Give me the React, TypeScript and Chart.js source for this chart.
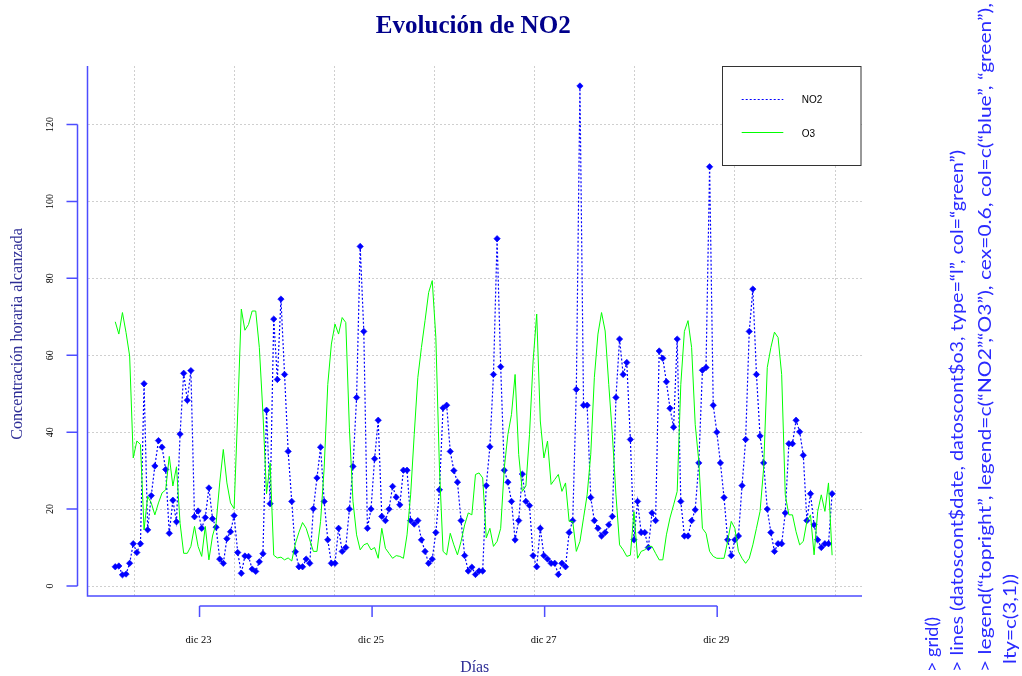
import React, { useEffect, useRef } from "react";
import { Chart, registerables } from "chart.js";

Chart.register(...registerables);

// ---------- data ----------
const TITLE = "Evolución de NO2";
const Y_TITLE = "Concentración horaria alcanzada";
const X_TITLE = "Días";
const SERIES_NAMES = ["NO2", "O3"];

// hourly readings (µg/m3)
const NO2 = [
  5.0, 5.2, 2.9, 3.1, 5.9, 11.0, 8.7, 11.0, 52.6, 14.6,
  23.5, 31.2, 37.8, 36.1, 30.3, 13.7, 22.3, 16.7, 39.5, 55.3,
  48.3, 56.0, 18.0, 19.5, 15.0, 17.8, 25.5, 17.5, 15.3, 7.0,
  5.9, 12.3, 14.1, 18.3, 8.7, 3.3, 7.8, 7.7, 4.4, 3.8,
  6.3, 8.4, 45.7, 21.4, 69.4, 53.7, 74.6, 55.0, 35.0, 22.0,
  8.9, 5.0, 5.0, 7.0, 5.9, 20.1, 28.1, 36.1, 22.0, 12.0,
  5.9, 5.9, 15.0, 9.0, 10.0, 20.0, 31.1, 49.0, 88.3, 66.2,
  15.0, 20.0, 33.1, 43.1, 18.1, 17.0, 20.0, 25.9, 23.1, 21.1,
  30.1, 30.1, 17.0, 16.1, 17.0, 12.0, 9.0, 5.9, 7.0, 13.9,
  25.0, 46.3, 47.0, 35.0, 30.0, 27.0, 17.0, 7.9, 3.9, 4.9,
  3.0, 3.9, 3.9, 26.1, 36.2, 55.0, 90.3, 57.0, 30.1, 27.0,
  22.0, 12.0, 17.0, 29.1, 22.0, 20.9, 7.9, 5.0, 15.0, 7.9,
  7.0, 5.9, 5.9, 3.0, 5.9, 5.0, 13.9, 17.0, 51.1, 130.0,
  47.0, 47.0, 23.0, 17.0, 15.0, 13.0, 13.9, 15.9, 18.1, 49.0,
  64.2, 55.0, 58.1, 38.1, 12.0, 22.0, 13.9, 13.9, 10.0, 19.0,
  17.0, 61.1, 59.2, 53.1, 46.2, 41.3, 64.2, 22.0, 13.0, 13.0,
  17.0, 19.8, 32.0, 56.1, 56.8, 109.0, 47.0, 40.0, 32.0, 23.0,
  12.0, 7.9, 12.0, 13.0, 26.1, 38.1, 66.2, 77.2, 55.0, 39.0,
  32.0, 20.0, 13.9, 9.0, 11.0, 11.0, 19.0, 37.0, 37.0, 43.1,
  40.1, 34.0, 17.0, 24.0, 15.9, 12.0, 10.0, 11.0, 11.0, 24.0,
];

const O3 = [
  68.7, 65.5, 71.1, 65.9, 59.8, 33.3, 37.7, 36.8, 14.6, 23.3,
  21.6, 18.5, 21.6, 24.2, 25.0, 33.7, 26.0, 31.0, 16.3, 8.5,
  8.5, 10.3, 15.5, 10.3, 7.7, 15.5, 6.8, 13.0, 16.3, 26.8,
  35.5, 26.8, 21.6, 20.1, 45.0, 72.0, 66.5, 68.0, 71.5, 71.5,
  62.0, 45.0, 24.0, 32.0, 8.0, 7.3, 7.5, 6.8, 7.3, 6.5,
  11.0, 14.0, 16.5, 15.0, 12.0, 9.0, 9.0, 16.8, 30.7, 52.4,
  62.9, 68.1, 65.5, 69.8, 68.5, 41.1, 22.0, 13.3, 9.4, 10.7,
  11.1, 9.4, 10.0, 7.2, 15.0, 9.8, 8.5, 7.2, 7.9, 7.7,
  7.2, 13.3, 23.7, 39.4, 54.2, 62.0, 69.0, 76.3, 79.4, 64.6,
  30.7, 9.0, 8.1, 13.7, 10.7, 8.1, 11.6, 15.9, 19.0, 18.5,
  29.0, 29.4, 28.1, 12.5, 15.0, 10.3, 11.6, 15.0, 30.7, 39.4,
  44.6, 55.0, 34.2, 24.6, 26.0, 39.4, 58.5, 70.7, 42.9, 33.3,
  37.7, 26.4, 27.7, 29.0, 24.6, 26.8, 16.8, 16.8, 9.0, 11.6,
  17.7, 23.7, 34.2, 54.2, 65.5, 71.1, 66.3, 52.4, 39.4, 23.7,
  10.7, 9.4, 7.7, 8.0, 19.3, 7.2, 9.0, 9.4, 10.3, 10.3,
  8.5, 6.8, 6.8, 13.3, 17.7, 21.1, 24.6, 52.4, 66.2, 69.0,
  62.0, 42.0, 32.4, 15.0, 13.7, 9.0, 7.7, 7.2, 7.2, 7.2,
  11.6, 16.8, 15.0, 9.0, 7.2, 5.9, 7.2, 10.7, 15.0, 19.4,
  30.7, 56.8, 62.0, 66.0, 64.6, 55.0, 23.7, 18.5, 18.5, 14.1,
  10.7, 11.6, 16.8, 18.5, 8.1, 19.4, 23.7, 19.4, 26.8, 8.0,
];

// hour index of each reading (one reading per hour)
const HOURS = NO2.map((_, i) => i);

const Y_TICKS = [0, 20, 40, 60, 80, 100, 120];
const DAY_TICK_HOURS = [23.4, 71.3, 119.2, 167.1];
const DAY_TICK_LABELS = ["dic 23", "dic 25", "dic 27", "dic 29"];
const GRID_X_HOURS = [5.36, 33.14, 60.92, 88.7, 116.48, 144.26, 172.04, 199.82];

const CODE_LINES = [
  "> grid()",
  "> lines (datoscont$date, datoscont$o3, type=\u201Cl\u201D, col=\u201Cgreen\u201D)",
  "> legend(\u201Ctopright\u201D, legend=c(\u201CNO2\u201D,\u201CO3\u201D), cex=0.6, col=c(\u201Cblue\u201D, \u201Cgreen\u201D),",
  "lty=c(3,1))",
];

// ---------- styles ----------
const W = 1022;
const H = 676;
const X_MIN = -7.7;
const X_MAX = 207.3;
const Y_MIN = -2.6;
const Y_MAX = 135.2;
const BLUE = "#0000ff";
const GREEN = "#00ff00";
const AXIS_BLUE = "#4d4dff";
const LABEL_BLUE = "#2e2e96";
const TITLE_BLUE = "#00008b";
const GRID = "#cfcfcf";
const SERIF = "'Liberation Serif', 'DejaVu Serif', serif";
const SANS = "'Liberation Sans', Arial, sans-serif";
const CODE_FONT = "Lato, 'Open Sans', sans-serif";
const CODE_SIZE = 17.5;
const CODE_COL_X = [932, 957, 985, 1010];
const CODE_START_Y = [672, 672, 672, 664];
const CODE_LENGTHS = [55, 522, 669, 90];

function fitSize(ctx: CanvasRenderingContext2D, text: string, font: string, weight: string, target: number) {
  ctx.font = `${weight} 100px ${font}`;
  const w = ctx.measureText(text).width;
  return (100 * target) / w;
}

const decorPlugin = {
  id: "rDecor",
  afterDraw(chart: any) {
    const ctx: CanvasRenderingContext2D = chart.ctx;
    const a = chart.chartArea;
    const xs = chart.scales.x;
    const ys = chart.scales.y;
    ctx.save();

    // L-shaped box
    ctx.strokeStyle = AXIS_BLUE;
    ctx.lineWidth = 1.5;
    ctx.setLineDash([]);
    ctx.beginPath();
    ctx.moveTo(a.left, a.top);
    ctx.lineTo(a.left, a.bottom);
    ctx.lineTo(a.right, a.bottom);
    ctx.stroke();

    // y axis (offset)
    const yAxisX = a.left - 10;
    const y0 = ys.getPixelForValue(Y_TICKS[0]);
    const y1 = ys.getPixelForValue(Y_TICKS[Y_TICKS.length - 1]);
    ctx.beginPath();
    ctx.moveTo(yAxisX, y0);
    ctx.lineTo(yAxisX, y1);
    Y_TICKS.forEach((v) => {
      const py = ys.getPixelForValue(v);
      ctx.moveTo(yAxisX, py);
      ctx.lineTo(yAxisX - 11, py);
    });
    ctx.stroke();

    ctx.fillStyle = "#000";
    ctx.font = `10px ${SERIF}`;
    ctx.textAlign = "center";
    ctx.textBaseline = "middle";
    Y_TICKS.forEach((v) => {
      const py = ys.getPixelForValue(v);
      ctx.save();
      ctx.translate(a.left - 37.5, py);
      ctx.rotate(-Math.PI / 2);
      ctx.fillText(String(v), 0, 0);
      ctx.restore();
    });

    // x axis (offset, custom ticks)
    const xAxisY = a.bottom + 10;
    const xa = xs.getPixelForValue(DAY_TICK_HOURS[0]);
    const xb = xs.getPixelForValue(DAY_TICK_HOURS[DAY_TICK_HOURS.length - 1]);
    ctx.beginPath();
    ctx.moveTo(xa, xAxisY);
    ctx.lineTo(xb, xAxisY);
    DAY_TICK_HOURS.forEach((h) => {
      const px = xs.getPixelForValue(h);
      ctx.moveTo(px, xAxisY);
      ctx.lineTo(px, xAxisY + 11);
    });
    ctx.stroke();

    ctx.font = `10.5px ${SERIF}`;
    DAY_TICK_HOURS.forEach((h, i) => {
      const px = xs.getPixelForValue(h);
      ctx.fillText(DAY_TICK_LABELS[i], px - 1, a.bottom + 44);
    });

    // title
    const cx = (a.left + a.right) / 2;
    ctx.fillStyle = TITLE_BLUE;
    const ts = fitSize(ctx, TITLE, SERIF, "bold", 195);
    ctx.font = `bold ${ts}px ${SERIF}`;
    ctx.textBaseline = "alphabetic";
    ctx.fillText(TITLE, cx - 1.5, 33);

    // axis titles
    ctx.fillStyle = LABEL_BLUE;
    ctx.textBaseline = "middle";
    const xs2 = fitSize(ctx, X_TITLE, SERIF, "normal", 29);
    ctx.font = `${xs2}px ${SERIF}`;
    ctx.fillText(X_TITLE, cx, 668);

    const ys2 = fitSize(ctx, Y_TITLE, SERIF, "normal", 212);
    ctx.font = `${ys2}px ${SERIF}`;
    ctx.save();
    ctx.translate(18, (a.top + a.bottom) / 2 + 3);
    ctx.rotate(-Math.PI / 2);
    ctx.fillText(Y_TITLE, 0, 0);
    ctx.restore();

    // legend box
    const lx = 722.5, ly = 66.5, lw = 138.5, lh = 99;
    ctx.fillStyle = "#fff";
    ctx.fillRect(lx, ly, lw, lh);
    ctx.strokeStyle = "#333";
    ctx.lineWidth = 1;
    ctx.strokeRect(lx, ly, lw, lh);

    ctx.strokeStyle = BLUE;
    ctx.lineWidth = 1.2;
    ctx.setLineDash([2, 2]);
    ctx.beginPath();
    ctx.moveTo(741.7, 99.5);
    ctx.lineTo(783.3, 99.5);
    ctx.stroke();
    ctx.setLineDash([]);
    ctx.strokeStyle = GREEN;
    ctx.lineWidth = 1;
    ctx.beginPath();
    ctx.moveTo(741.7, 132.5);
    ctx.lineTo(783.3, 132.5);
    ctx.stroke();

    ctx.fillStyle = "#000";
    ctx.font = `10px ${SANS}`;
    ctx.textAlign = "left";
    ctx.fillText(SERIES_NAMES[0], 801.7, 100.5);
    ctx.fillText(SERIES_NAMES[1], 801.7, 134);

    // console code at right, rotated
    ctx.font = `${CODE_SIZE}px ${CODE_FONT}`;
    ctx.fillStyle = "#2a2aff";
    CODE_LINES.forEach((t, i) => {
      const natural = ctx.measureText(t).width;
      ctx.save();
      ctx.translate(CODE_COL_X[i], CODE_START_Y[i]);
      ctx.rotate(-Math.PI / 2);
      ctx.scale(CODE_LENGTHS[i] / natural, 1);
      ctx.textAlign = "left";
      ctx.textBaseline = "middle";
      ctx.fillText(t, 0, 0);
      ctx.restore();
    });

    ctx.restore();
  },
};

export default function App() {
  const ref = useRef<HTMLCanvasElement | null>(null);

  useEffect(() => {
    const canvas = ref.current;
    if (!canvas) return;
    const chart = new Chart(canvas, {
      type: "line",
      data: {
        labels: HOURS,
        datasets: [
          {
            label: SERIES_NAMES[1],
            data: HOURS.map((h, i) => ({ x: h, y: O3[i] })),
            borderColor: GREEN,
            borderWidth: 1,
            pointRadius: 0,
            tension: 0,
            order: 0,
          },
          {
            label: SERIES_NAMES[0],
            data: HOURS.map((h, i) => ({ x: h, y: NO2[i] })),
            borderColor: BLUE,
            backgroundColor: BLUE,
            borderWidth: 1.2,
            borderDash: [2, 2],
            pointStyle: "rectRot",
            pointRadius: 3.2,
            pointBorderWidth: 0.6,
            pointBorderColor: BLUE,
            pointBackgroundColor: BLUE,
            tension: 0,
            order: 1,
          },
        ],
      },
      options: {
        responsive: false,
        animation: false,
        devicePixelRatio: 1,
        layout: {
          autoPadding: false,
          padding: { left: 87.5, right: W - 862, top: 66, bottom: H - 596 },
        },
        plugins: {
          legend: { display: false },
          title: { display: false },
          tooltip: { enabled: false },
        },
        scales: {
          x: {
            type: "linear",
            min: X_MIN,
            max: X_MAX,
            afterBuildTicks: (s: any) => {
              s.ticks = GRID_X_HOURS.map((v) => ({ value: v }));
            },
            afterFit: (s: any) => {
              s.height = 0;
            },
            ticks: { display: false },
            grid: { color: GRID, lineWidth: 1, drawTicks: false },
            border: { display: false, dash: [2, 2] },
          },
          y: {
            type: "linear",
            min: Y_MIN,
            max: Y_MAX,
            afterBuildTicks: (s: any) => {
              s.ticks = Y_TICKS.map((v) => ({ value: v }));
            },
            afterFit: (s: any) => {
              s.width = 0;
            },
            ticks: { display: false },
            grid: { color: GRID, lineWidth: 1, drawTicks: false },
            border: { display: false, dash: [2, 2] },
          },
        },
      } as any,
      plugins: [decorPlugin],
    });
    return () => chart.destroy();
  }, []);

  return (
    <div style={{ position: "fixed", left: 0, top: 0, width: W, height: H, background: "#fff", overflow: "hidden" }}>
      <canvas ref={ref} width={W} height={H} style={{ display: "block", width: W, height: H }} />
    </div>
  );
}
